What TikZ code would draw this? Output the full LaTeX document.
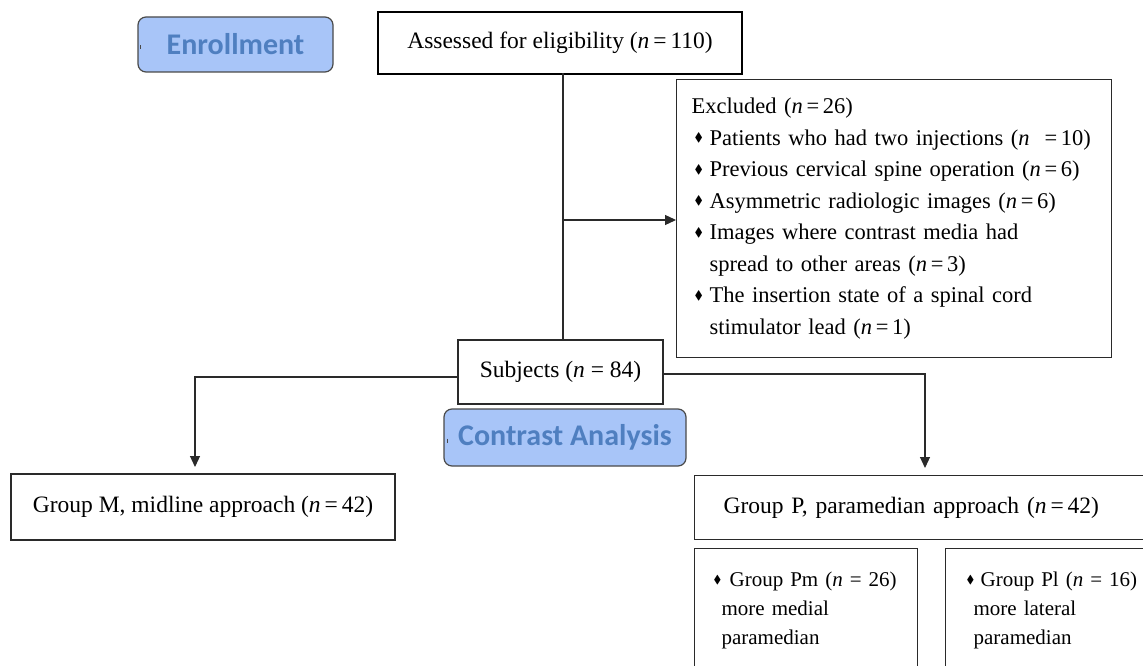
\documentclass[tikz,border=0pt]{standalone}
\usepackage{amssymb}
\usepackage{fontspec}
\setmainfont{Liberation Serif}
\newfontfamily\labfont{Carlito}
\usetikzlibrary{arrows.meta}
\definecolor{labfill}{HTML}{A8C5F8}
\definecolor{labline}{HTML}{4A4A4A}
\definecolor{labtext}{HTML}{4F7FC0}
\definecolor{boxline}{HTML}{2A2A2A}
\newcommand\bulmark{\raisebox{0.35ex}{\scalebox{0.55}{$\blacklozenge$}}}
\begin{document}
\begin{tikzpicture}[x=1pt,y=-1pt,
  box/.style={draw=boxline, line width=1.2pt, fill=white, inner sep=0pt,
    font=\fontsize{23.5}{28}\selectfont},
  tag/.style={draw=labline, line width=1.2pt, rounded corners=8pt, fill=labfill,
    text=labtext, inner sep=0pt, font=\labfont\bfseries\fontsize{30}{34}\selectfont},
  conn/.style={line width=1.2pt, draw=boxline},
  arr/.style={conn, -{Triangle[length=11pt,width=10pt]}},
  tick/.style={line width=0.8pt, draw=labline}]
\clip (0,0) rectangle (1143,666);
\fill[white] (0,0) rectangle (1143,666);

% labels
\node[tag, minimum width=195pt, minimum height=55pt] (enr) at (235.5,44.5) {Enrollment};
\node[tag, minimum width=242pt, minimum height=57pt] (ca) at (565,437.5) {Contrast Analysis};
\draw[tick] ([xshift=3pt,yshift=-1pt]enr.west) -- ([xshift=3pt,yshift=-5pt]enr.west);
\draw[tick] ([xshift=4pt,yshift=-1pt]ca.west) -- ([xshift=4pt,yshift=-5pt]ca.west);

% boxes
\node[box, draw=black, line width=2.4pt, minimum width=364pt, minimum height=62pt] (ass) at (560,43)
  {Assessed for eligibility\ (\textit{n}\,=\,110)};

\node[box, anchor=north west, minimum height=278pt, text width=405pt, inner xsep=15pt,
  align=left, font=\fontsize{22.5}{31.5}\selectfont] (excl) at (676,79)
  {Excluded (\textit{n}\,=\,26)\\
   \hspace*{3pt}\makebox[15pt][l]{\bulmark}Patients who had two injections (\textit{n}\ \ =\,10)\\
   \hspace*{3pt}\makebox[15pt][l]{\bulmark}Previous cervical spine operation (\textit{n}\,=\,6)\\
   \hspace*{3pt}\makebox[15pt][l]{\bulmark}Asymmetric radiologic images (\textit{n}\,=\,6)\\
   \hspace*{3pt}\makebox[15pt][l]{\bulmark}Images where contrast media had\\
   \hspace*{18pt}spread to other areas (\textit{n}\,=\,3)\\
   \hspace*{3pt}\makebox[15pt][l]{\bulmark}The insertion state of a spinal cord\\
   \hspace*{18pt}stimulator lead (\textit{n}\,=\,1)};

\node[box, minimum width=205pt, minimum height=64pt] (subj) at (560.5,372)
  {Subjects (\textit{n} = 84)};

\node[box, minimum width=384pt, minimum height=66pt] (gm) at (203,507)
  {Group M, midline approach (\textit{n}\,=\,42)};

\node[box, anchor=north west, minimum height=64pt, text width=422pt, inner xsep=29pt,
  align=left] (gp) at (694,475)
  {Group P, paramedian approach (\textit{n}\,=\,42)};

\node[box, anchor=north west, minimum height=124pt, text width=185pt, inner xsep=19pt,
  align=left, font=\fontsize{21}{29}\selectfont] (pm) at (694,548)
  {\makebox[16pt][l]{\bulmark}Group Pm (\textit{n} = 26)\\
   \hspace*{8pt}more medial\\
   \hspace*{8pt}paramedian};

\node[box, anchor=north west, minimum height=124pt, text width=180pt, inner xsep=21pt,
  align=left, font=\fontsize{21}{29}\selectfont] (pl) at (945,548)
  {\makebox[14pt][l]{\bulmark}Group Pl (\textit{n} = 16)\\
   \hspace*{7pt}more lateral\\
   \hspace*{7pt}paramedian};

% connectors
\coordinate (top) at (563,73);
\coordinate (bot) at (563,340);
\coordinate (junc) at (563,220);
\draw[conn] (top) -- (bot);
\draw[arr] (junc) -- (junc -| excl.west);

\coordinate (ml) at (458,377);
\coordinate (mc) at (195,377);
\coordinate (mt) at (195,474);
\draw[arr, shorten >=7pt] (ml) -- (mc) -- (mt);

\coordinate (pr) at (663,374);
\coordinate (pc) at (925,374);
\coordinate (pt) at (925,475);
\draw[arr, shorten >=7pt] (pr) -- (pc) -- (pt);
\end{tikzpicture}
\end{document}
